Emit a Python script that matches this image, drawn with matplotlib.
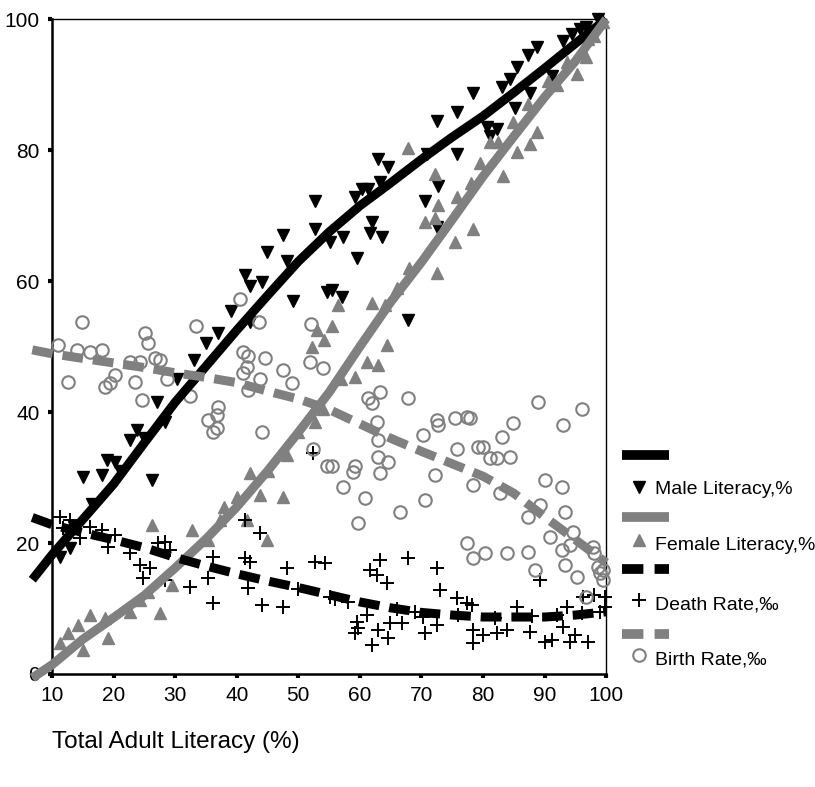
import matplotlib
matplotlib.use("Agg")
import matplotlib.pyplot as plt
from matplotlib.lines import Line2D

plt.rcParams["font.family"] = ["Liberation Sans", "DejaVu Sans"]

GRAY = "#808080"

# country values, total adult literacy on x
male_x = [11.3, 12.9, 13.5, 15.0, 16.5, 18.1, 18.9, 20.2, 21.0, 22.7, 23.8, 25.0, 26.2, 27.0, 28.3,
          30.3, 33.0, 35.0, 37.0, 39.0, 41.3, 42.1, 44.1, 44.9, 47.5, 48.1, 52.7, 52.7, 49.1, 42.1,
          54.6, 55.1, 57.2, 59.5, 59.2, 60.3, 61.3, 62.9, 64.5, 63.2, 61.9, 61.6, 63.6, 70.6, 72.7,
          72.5, 70.9, 75.7, 72.5, 75.7, 78.3, 67.8, 55.5, 57.1, 80.6, 82.2, 81.1, 83.1, 84.4, 85.5,
          87.3, 88.7, 85.2, 87.6, 91.2, 93.0, 94.4, 95.7, 96.8, 98.6]
male_y = [17.9, 19.3, 22.5, 30.1, 26.0, 30.4, 32.7, 32.4, 31.0, 35.8, 37.3, 36.0, 29.7, 41.6, 38.5,
          45.0, 48.0, 50.5, 52.0, 55.5, 61.0, 59.2, 59.9, 64.5, 67.1, 63.0, 72.2, 67.9, 56.9, 53.7,
          58.4, 65.9, 66.8, 63.6, 72.8, 74.0, 74.0, 78.6, 77.5, 75.2, 69.0, 67.4, 66.7, 72.2, 74.5,
          68.2, 79.4, 79.4, 84.4, 85.8, 88.8, 54.1, 58.7, 57.6, 83.5, 83.2, 82.1, 89.6, 90.8, 92.7,
          94.6, 95.7, 86.5, 88.8, 91.3, 96.6, 97.7, 98.5, 98.8, 100.0]

female_x = [11.3, 12.6, 14.2, 15.0, 16.2, 19.1, 18.6, 22.7, 24.3, 25.6, 27.5, 29.5, 26.2, 32.7,
            35.3, 37.3, 38.0, 40.0, 41.7, 44.9, 43.8, 45.0, 47.5, 42.1, 48.1, 50.0, 52.7, 54.0,
            52.2, 53.0, 54.2, 56.4, 55.5, 57.0, 61.9, 64.1, 64.4, 62.9, 61.1, 59.2, 66.0, 68.0,
            67.8, 72.2, 72.7, 70.6, 72.2, 75.7, 78.3, 75.4, 72.5, 78.0, 81.1, 82.4, 79.5, 83.2,
            84.8, 87.3, 85.5, 87.6, 88.7, 90.5, 92.0, 93.6, 95.2, 96.8, 97.0, 98.1, 99.5]
female_y = [4.7, 6.3, 7.5, 3.7, 9.0, 5.5, 8.6, 9.5, 11.3, 12.5, 9.3, 13.6, 22.8, 22.0,
            20.5, 23.5, 25.5, 27.0, 23.5, 20.5, 27.4, 31.0, 27.1, 30.7, 33.5, 37.0, 38.5, 40.4,
            50.0, 52.5, 51.0, 56.4, 53.1, 45.0, 56.7, 56.4, 50.3, 47.2, 47.6, 45.4, 59.0, 62.0,
            80.4, 76.3, 71.7, 69.1, 69.7, 72.8, 67.9, 65.9, 61.3, 75.0, 81.2, 81.3, 78.1, 76.0,
            84.3, 87.0, 79.7, 80.9, 82.7, 90.5, 90.0, 93.4, 91.6, 94.3, 97.0, 97.4, 99.5]

death_x = [11.3, 12.9, 11.8, 14.5, 16.2, 18.1, 20.2, 19.1, 22.7, 24.3, 25.9, 27.2, 28.3, 29.2,
           28.3, 24.8, 32.4, 36.1, 35.3, 36.1, 41.3, 41.3, 42.1, 41.8, 43.8, 44.1, 47.5, 48.1,
           50.0, 52.4, 52.7, 54.3, 55.1, 56.0, 58.0, 63.2, 61.6, 62.8, 64.4, 67.8, 72.5, 73.0,
           75.7, 77.4, 59.5, 59.7, 59.2, 61.1, 62.9, 64.5, 61.9, 64.9, 66.8, 66.0, 69.0, 70.6,
           72.5, 70.2, 76.0, 78.3, 78.3, 78.2, 80.0, 82.2, 82.0, 83.9, 85.5, 87.6, 88.0, 89.2,
           90.0, 91.2, 92.0, 93.0, 94.1, 94.9, 96.0, 97.0, 93.6, 96.2, 98.1, 99.0, 99.8, 99.8]
death_y = [24.0, 23.5, 22.3, 20.8, 22.5, 22.0, 21.3, 19.4, 18.5, 16.7, 16.2, 20.0, 20.2, 19.0,
           14.4, 14.7, 13.3, 17.9, 14.7, 10.9, 23.5, 17.7, 17.1, 13.2, 21.6, 10.6, 10.2, 16.2,
           13.0, 33.8, 17.1, 17.0, 11.8, 11.5, 11.0, 17.4, 15.9, 15.1, 13.9, 17.7, 16.2, 12.8,
           11.6, 10.9, 8.0, 7.0, 6.3, 9.0, 6.7, 5.5, 4.4, 7.8, 7.8, 10.0, 9.5, 6.3,
           7.5, 8.7, 9.0, 6.7, 4.7, 10.6, 6.0, 6.3, 8.5, 6.7, 10.2, 6.4, 8.8, 14.4,
           4.9, 5.2, 9.0, 7.2, 4.9, 6.0, 9.3, 4.9, 10.2, 11.8, 12.1, 9.5, 11.8, 10.2]

birth_x = [11.0, 14.1, 16.2, 18.1, 12.6, 18.6, 19.4, 20.2, 22.7, 24.3, 23.5, 24.6, 26.7, 27.5,
           25.6, 28.7, 14.9, 25.1, 33.4, 40.5, 43.6, 52.0, 41.0, 41.8, 41.7, 41.0, 44.6, 43.8,
           41.8, 47.5, 49.0, 32.4, 36.9, 36.8, 35.3, 36.8, 36.1, 44.1, 51.9, 54.0, 52.4, 54.6,
           55.5, 59.2, 58.9, 57.2, 60.8, 59.7, 63.2, 62.9, 64.5, 62.8, 62.9, 61.3, 61.9, 63.2,
           67.8, 66.5, 70.6, 72.2, 70.2, 72.5, 72.7, 75.4, 77.4, 77.9, 75.7, 78.3, 77.4, 78.3,
           79.2, 80.0, 81.1, 82.2, 83.1, 84.4, 84.8, 88.9, 96.0, 93.0, 82.7, 90.0, 92.8, 89.2,
           87.3, 93.3, 90.8, 94.6, 92.8, 94.1, 80.3, 83.9, 87.3, 88.4, 93.3, 95.2, 97.8, 98.1,
           98.6, 99.0, 99.5, 96.8, 99.5]
birth_y = [50.3, 49.5, 49.2, 49.5, 44.6, 43.9, 44.5, 45.7, 47.6, 47.7, 44.6, 41.9, 48.3, 48.0,
           50.6, 45.0, 53.8, 52.1, 53.1, 57.2, 53.7, 53.4, 49.2, 48.5, 46.9, 46.0, 48.3, 45.0,
           43.4, 46.5, 44.5, 42.4, 40.7, 39.6, 38.8, 37.6, 36.9, 36.9, 47.6, 46.8, 34.3, 31.7,
           31.7, 31.7, 30.9, 28.6, 26.9, 23.1, 30.7, 33.2, 32.4, 38.5, 35.8, 42.2, 41.4, 43.0,
           42.2, 24.8, 26.6, 30.4, 36.5, 38.8, 38.1, 39.1, 39.3, 39.1, 34.3, 28.9, 20.0, 17.7,
           34.6, 34.6, 33.0, 33.0, 36.2, 33.2, 38.4, 41.6, 40.4, 38.1, 27.7, 29.7, 28.6, 25.8,
           23.9, 24.8, 20.9, 21.7, 19.0, 19.7, 18.5, 18.5, 18.7, 15.9, 16.7, 14.8, 19.4, 18.5,
           16.4, 15.4, 14.4, 11.8, 15.9]

# smoothed fit lines
fit_x = [6.8, 10, 15, 20, 25, 30, 35, 40, 45, 50, 55, 60, 65, 70, 75, 80, 85, 90, 95, 100]
male_fit = [14.4, 18.2, 23.6, 29.0, 35.3, 41.5, 47.0, 52.5, 57.8, 63.0, 67.5, 71.5, 75.0, 78.6,
            82.0, 85.2, 88.8, 92.5, 96.3, 100.0]
female_fit = [-0.6, 1.4, 5.3, 8.6, 12.0, 16.2, 20.6, 25.5, 31.0, 36.9, 43.0, 50.0, 56.8, 62.9,
              69.4, 76.0, 82.1, 88.1, 93.6, 100.0]
death_fit = [23.9, 22.8, 21.6, 20.5, 19.3, 17.8, 16.5, 15.3, 14.2, 13.2, 12.1, 11.0, 10.1, 9.4,
             9.0, 8.7, 8.7, 8.7, 9.0, 9.5]
birth_fit = [49.5, 48.9, 48.2, 47.5, 46.8, 46.0, 45.3, 44.5, 43.2, 42.0, 40.4, 38.2, 36.0, 34.0,
             32.1, 30.2, 27.6, 24.0, 20.5, 17.0]

fig = plt.figure(figsize=(8.15, 7.87), dpi=100)
ax = fig.add_axes([0.0638, 0.1436, 0.680, 0.832])

series = [
    ("Male Literacy,%", male_x, male_y, male_fit,
     dict(marker="v", color="black", ms=9, ls="none"), dict(color="black", ls="-")),
    ("Female Literacy,%", female_x, female_y, female_fit,
     dict(marker="^", color=GRAY, ms=9, ls="none"), dict(color=GRAY, ls="-")),
    ("Death Rate,\u2030", death_x, death_y, death_fit,
     dict(marker="+", color="black", ms=10, mew=1.4, ls="none"), dict(color="black", ls=(0, (2.3, 1.1)))),
    ("Birth Rate,\u2030", birth_x, birth_y, birth_fit,
     dict(marker="o", mfc="none", mec=GRAY, ms=9, mew=1.5, ls="none"), dict(color=GRAY, ls=(0, (2.3, 1.1)))),
]

for label, xs, ys, fit, mkw, lkw in series:
    ax.plot(xs, ys, clip_on=False, zorder=3, **mkw)
for label, xs, ys, fit, mkw, lkw in series:
    ax.plot(fit_x, fit, lw=6.5, solid_capstyle="butt", dash_capstyle="butt",
            solid_joinstyle="round", clip_on=False, zorder=4, **lkw)

ax.set_xlim(10, 100)
ax.set_ylim(0, 100)
ax.set_xticks(range(10, 101, 10))
ax.set_yticks(range(0, 101, 20))
ax.tick_params(direction="out", length=3, width=3, labelsize=15, pad=6)
for side in ["left", "bottom"]:
    ax.spines[side].set_linewidth(1.8)
for side in ["top", "right"]:
    ax.spines[side].set_linewidth(1.0)

fig.text(52 / 815, 1 - 742 / 787, "Total Adult Literacy (%)", fontsize=17.5, ha="left", va="center")

# legend: line swatch on one row, marker + label on the next
H = 787.0
rows = [455, 517, 569, 634]
text_rows = [490, 545, 605, 660]
marker_rows = [487, 540, 600, 655]
for (label, xs, ys, fit, mkw, lkw), ly, ty, my in zip(series, rows, text_rows, marker_rows):
    swatch_ls = "-" if lkw["ls"] == "-" else (0, (2.2, 1.15))
    fig.add_artist(Line2D([622 / 815, 669 / 815], [1 - ly / H, 1 - ly / H], lw=7,
                          color=lkw["color"], ls=swatch_ls,
                          solid_capstyle="butt", dash_capstyle="butt",
                          transform=fig.transFigure))
    mk = dict(mkw)
    mk.pop("ls")
    fig.add_artist(Line2D([639 / 815], [1 - my / H], transform=fig.transFigure, ls="none", **mk))
    fig.text(655 / 815, 1 - ty / H, label, fontsize=14, ha="left", va="center")

fig.savefig("out.png", dpi=100)
